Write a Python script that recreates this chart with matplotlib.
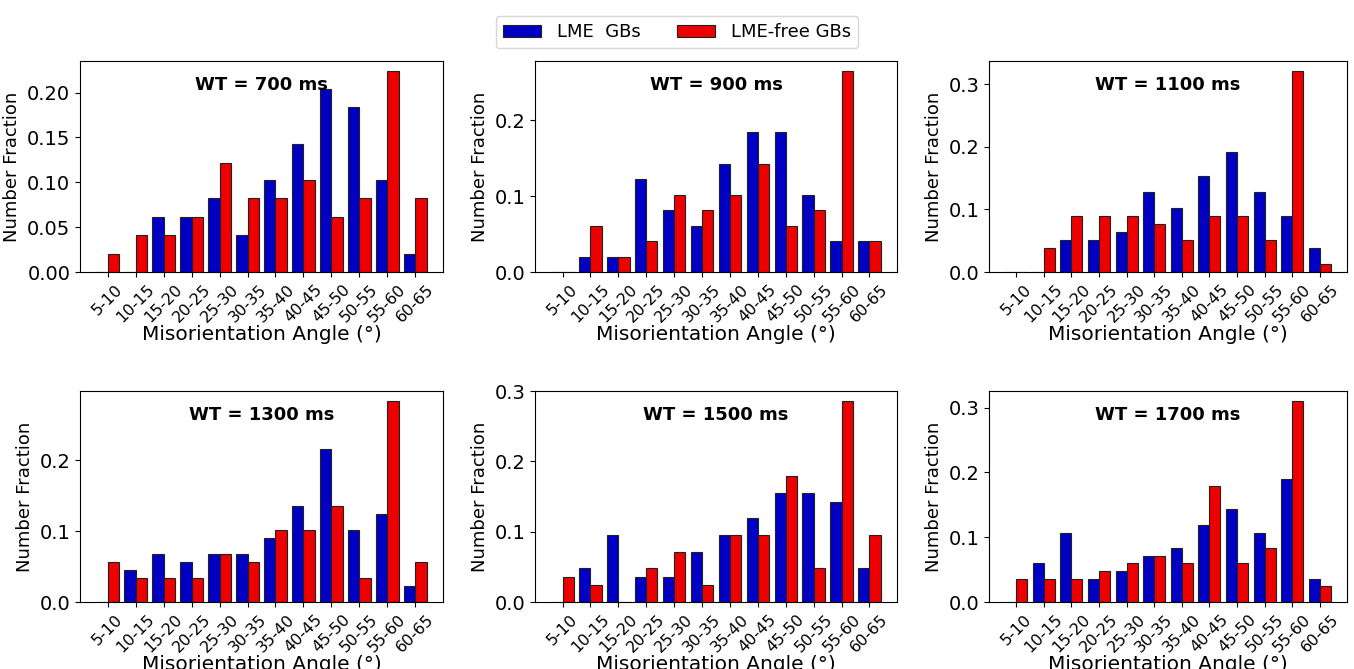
import matplotlib
matplotlib.use("Agg")
import matplotlib.pyplot as plt
from matplotlib.ticker import MultipleLocator
import numpy as np

# bins of misorientation angle
bins = ['5-10', '10-15', '15-20', '20-25', '25-30', '30-35',
        '35-40', '40-45', '45-50', '50-55', '55-60', '60-65']

titles = ['WT = 700 ms', 'WT = 900 ms', 'WT = 1100 ms',
          'WT = 1300 ms', 'WT = 1500 ms', 'WT = 1700 ms']

# number fractions
lme_700 = [0.0, 0.0, 0.061, 0.061, 0.082, 0.041, 0.102, 0.143, 0.204, 0.184, 0.102, 0.020]
free_700 = [0.020, 0.041, 0.041, 0.061, 0.122, 0.082, 0.082, 0.102, 0.061, 0.082, 0.224, 0.082]

lme_900 = [0.0, 0.020, 0.020, 0.122, 0.082, 0.061, 0.143, 0.184, 0.184, 0.102, 0.041, 0.041]
free_900 = [0.0, 0.061, 0.020, 0.041, 0.102, 0.082, 0.102, 0.143, 0.061, 0.082, 0.265, 0.041]

lme_1100 = [0.0, 0.0, 0.051, 0.051, 0.064, 0.128, 0.103, 0.154, 0.192, 0.128, 0.090, 0.038]
free_1100 = [0.0, 0.038, 0.090, 0.090, 0.090, 0.077, 0.051, 0.090, 0.090, 0.051, 0.321, 0.013]

lme_1300 = [0.0, 0.045, 0.068, 0.057, 0.068, 0.068, 0.091, 0.136, 0.216, 0.102, 0.125, 0.023]
free_1300 = [0.057, 0.034, 0.034, 0.034, 0.068, 0.057, 0.102, 0.102, 0.136, 0.034, 0.284, 0.057]

lme_1500 = [0.0, 0.048, 0.095, 0.036, 0.036, 0.071, 0.095, 0.119, 0.155, 0.155, 0.143, 0.048]
free_1500 = [0.036, 0.024, 0.0, 0.048, 0.071, 0.024, 0.095, 0.095, 0.179, 0.048, 0.286, 0.095]

lme_1700 = [0.0, 0.060, 0.107, 0.036, 0.048, 0.071, 0.083, 0.119, 0.143, 0.107, 0.190, 0.036]
free_1700 = [0.036, 0.036, 0.036, 0.048, 0.060, 0.071, 0.060, 0.179, 0.060, 0.083, 0.310, 0.024]

lme_all = [lme_700, lme_900, lme_1100, lme_1300, lme_1500, lme_1700]
free_all = [free_700, free_900, free_1100, free_1300, free_1500, free_1700]
ysteps = [0.05, 0.1, 0.1, 0.1, 0.1, 0.1]

cBlue = '#0000c4'
cRed = '#ee0000'
W, H = 1354, 669

fig = plt.figure(figsize=(W / 100, H / 100), dpi=100)

#   axes boxes in pixels: left, top, right, bottom
lefts = [80, 535, 989]
rights = [443, 897, 1347]
tops = [61, 391]
bottoms = [272, 602]

x = np.arange(len(bins))
w = 0.4
for i in range(6):
    r, c = divmod(i, 3)
    ax = fig.add_axes([lefts[c] / W, 1 - bottoms[r] / H,
                       (rights[c] - lefts[c]) / W, (bottoms[r] - tops[r]) / H])
    b1 = ax.bar(x - w / 2, lme_all[i], w, color=cBlue, edgecolor='#222222',
                linewidth=0.8, label='LME  GBs')
    b2 = ax.bar(x + w / 2, free_all[i], w, color=cRed, edgecolor='#222222',
                linewidth=0.8, label='LME-free GBs')
    ax.set_xticks(x)
    ax.set_xticklabels(bins, rotation=45, fontsize=11.5)
    ax.yaxis.set_major_locator(MultipleLocator(ysteps[i]))
    ax.tick_params(axis='y', labelsize=14)
    ax.set_xlabel('Misorientation Angle (°)', fontsize=14.5, labelpad=0)
    ax.set_ylabel('Number Fraction', fontsize=13)
    ax.text(0.5, 0.885, titles[i], transform=ax.transAxes, ha='center',
            va='center', fontsize=13, fontweight='bold')
    if i == 0:
        handles = [b1, b2]

fig.legend(handles, ['LME  GBs', 'LME-free GBs'], loc='upper center',
           bbox_to_anchor=(0.5, 1 - 7 / H), ncol=2, fontsize=13,
           handlelength=2.1, handletextpad=0.9)

fig.savefig('out.png', dpi=100)
